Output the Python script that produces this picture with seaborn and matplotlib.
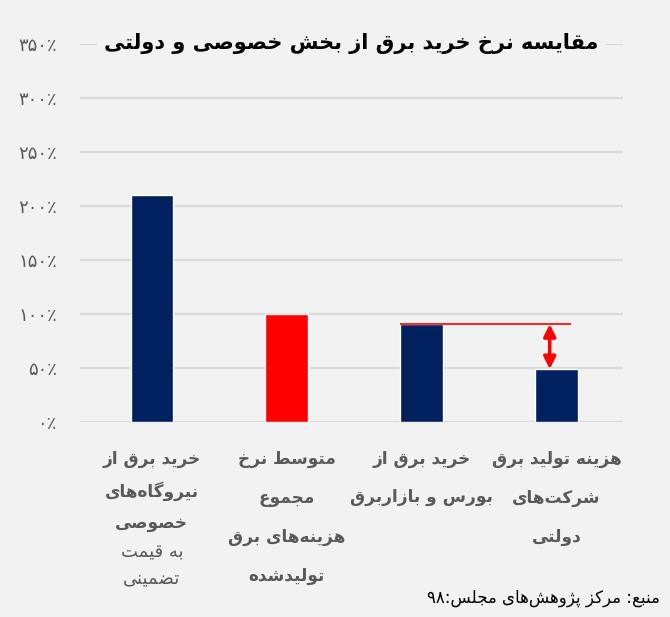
import matplotlib
matplotlib.use("Agg")
import matplotlib.pyplot as plt
import seaborn as sns
import pandas as pd

# ---------------- data ----------------
title_text = "مقایسه نرخ خرید برق از بخش خصوصی و دولتی"
category_ids = ["c1", "c2", "c3", "c4"]
category_lines = [
    ["خرید برق از", "نیروگاه\u200cهای", "خصوصی"],
    ["متوسط نرخ", "مجموع", "هزینه\u200cهای برق", "تولیدشده"],
    ["خرید برق از", "بورس و بازاربرق"],
    ["هزینه تولید برق", "شرکت\u200cهای", "دولتی"],
]
category_extra_lines = [["به قیمت", "تضمینی"], [], [], []]
values = [210, 100, 91, 49]
bar_colors = ["#002060", "#ff0000", "#002060", "#002060"]
y_ticks = [0, 50, 100, 150, 200, 250, 300, 350]
source_text = "منبع: مرکز پژوهش\u200cهای مجلس:۹۸"

# ---------------- minimal Persian shaping ----------------
FORMS = {
    '\u0627': ('\uFE8D', '\uFE8E', None, None),
    '\u0622': ('\uFE81', '\uFE82', None, None),
    '\u0628': ('\uFE8F', '\uFE90', '\uFE91', '\uFE92'),
    '\u067E': ('\uFB56', '\uFB57', '\uFB58', '\uFB59'),
    '\u062A': ('\uFE95', '\uFE96', '\uFE97', '\uFE98'),
    '\u062B': ('\uFE99', '\uFE9A', '\uFE9B', '\uFE9C'),
    '\u062C': ('\uFE9D', '\uFE9E', '\uFE9F', '\uFEA0'),
    '\u0686': ('\uFB7A', '\uFB7B', '\uFB7C', '\uFB7D'),
    '\u062D': ('\uFEA1', '\uFEA2', '\uFEA3', '\uFEA4'),
    '\u062E': ('\uFEA5', '\uFEA6', '\uFEA7', '\uFEA8'),
    '\u062F': ('\uFEA9', '\uFEAA', None, None),
    '\u0630': ('\uFEAB', '\uFEAC', None, None),
    '\u0631': ('\uFEAD', '\uFEAE', None, None),
    '\u0632': ('\uFEAF', '\uFEB0', None, None),
    '\u0698': ('\uFB8A', '\uFB8B', None, None),
    '\u0633': ('\uFEB1', '\uFEB2', '\uFEB3', '\uFEB4'),
    '\u0634': ('\uFEB5', '\uFEB6', '\uFEB7', '\uFEB8'),
    '\u0635': ('\uFEB9', '\uFEBA', '\uFEBB', '\uFEBC'),
    '\u0636': ('\uFEBD', '\uFEBE', '\uFEBF', '\uFEC0'),
    '\u0637': ('\uFEC1', '\uFEC2', '\uFEC3', '\uFEC4'),
    '\u0638': ('\uFEC5', '\uFEC6', '\uFEC7', '\uFEC8'),
    '\u0639': ('\uFEC9', '\uFECA', '\uFECB', '\uFECC'),
    '\u063A': ('\uFECD', '\uFECE', '\uFECF', '\uFED0'),
    '\u0641': ('\uFED1', '\uFED2', '\uFED3', '\uFED4'),
    '\u0642': ('\uFED5', '\uFED6', '\uFED7', '\uFED8'),
    '\u06A9': ('\uFB8E', '\uFB8F', '\uFB90', '\uFB91'),
    '\u06AF': ('\uFB92', '\uFB93', '\uFB94', '\uFB95'),
    '\u0644': ('\uFEDD', '\uFEDE', '\uFEDF', '\uFEE0'),
    '\u0645': ('\uFEE1', '\uFEE2', '\uFEE3', '\uFEE4'),
    '\u0646': ('\uFEE5', '\uFEE6', '\uFEE7', '\uFEE8'),
    '\u0648': ('\uFEED', '\uFEEE', None, None),
    '\u0647': ('\uFEE9', '\uFEEA', '\uFEEB', '\uFEEC'),
    '\u06CC': ('\uFBFC', '\uFBFD', '\uFBFE', '\uFBFF'),
    '\u064A': ('\uFEF1', '\uFEF2', '\uFEF3', '\uFEF4'),
    '\u0626': ('\uFE89', '\uFE8A', '\uFE8B', '\uFE8C'),
    '\u0629': ('\uFE93', '\uFE94', None, None),
}
DIGITS = set("0123456789\u06F0\u06F1\u06F2\u06F3\u06F4\u06F5\u06F6\u06F7\u06F8\u06F9")


def _dual(ch):
    f = FORMS.get(ch)
    return f is not None and f[2] is not None


def shape_line(text):
    chars = list(text)
    n = len(chars)
    res = []
    i = 0
    while i < n:
        c = chars[i]
        if c not in FORMS:
            if c != '\u200c':
                res.append(c)
            i += 1
            continue
        prev = chars[i - 1] if i > 0 else None
        prev_j = prev is not None and _dual(prev)
        if c == '\u0644' and i + 1 < n and chars[i + 1] == '\u0627':
            res.append('\uFEFC' if prev_j else '\uFEFB')
            i += 2
            continue
        nxt = chars[i + 1] if i + 1 < n else None
        next_j = nxt is not None and nxt in FORMS
        f = FORMS[c]
        if f[2] is None:
            form = f[1] if prev_j else f[0]
        else:
            if prev_j and next_j:
                form = f[3]
            elif prev_j:
                form = f[1]
            elif next_j:
                form = f[2]
            else:
                form = f[0]
        res.append(form)
        i += 1
    # visual order (RTL), keeping digit runs left-to-right
    res = res[::-1]
    out = []
    run = []
    for ch in res:
        if ch in DIGITS:
            run.append(ch)
        else:
            if run:
                out.extend(run[::-1])
                run = []
            out.append(ch)
    if run:
        out.extend(run[::-1])
    return "".join(out)


def fa(text):
    return "\n".join(shape_line(l) for l in text.split("\n"))


def fa_digits(n):
    return "".join(chr(0x06F0 + int(d)) for d in str(n))


# ---------------- plotting ----------------
BG = "#f2f2f2"
sns.set_theme(style="white")
plt.rcParams["font.family"] = ["DejaVu Sans"]

fig = plt.figure(figsize=(6.70, 6.17), dpi=100, facecolor=BG)
ax = fig.add_axes([0.119, 0.316, 0.811, 0.613])
ax.set_facecolor(BG)

df = pd.DataFrame({"cat": category_ids, "val": values})
bar_w = 0.315
sns.barplot(data=df, x="cat", y="val", hue="cat", palette=bar_colors,
            width=bar_w, saturation=1, legend=False, ax=ax, zorder=3)

ax.set_ylim(0, 350)
ax.set_xlim(-0.534, 3.494)
ax.set_yticks(y_ticks)
ax.set_yticklabels([fa_digits(t) + "\u066A" for t in y_ticks],
                   color="#595959", fontsize=13)
ax.tick_params(axis="y", length=0, pad=16.5)
ax.tick_params(axis="x", length=0)
ax.set_xticks(range(len(category_ids)))
ax.set_xticklabels([""] * len(category_ids))
ax.set_xlabel("")
ax.set_ylabel("")
ax.yaxis.grid(True, color="#d9d9d9", linewidth=1.5, zorder=0)
ax.set_axisbelow(True)
for s in ax.spines.values():
    s.set_visible(False)

# category labels
bold_step = [32, 39, 38, 39]
for i, lines in enumerate(category_lines):
    off = 37
    for j, line in enumerate(lines):
        ax.annotate(fa(line), xy=(i, 0), xytext=(0, -(off + j * bold_step[i])),
                    textcoords="offset pixels", ha="center", va="center",
                    fontsize=12.2, fontweight="bold", color="#595959",
                    annotation_clip=False)
    extra = category_extra_lines[i]
    for k, line in enumerate(extra):
        ax.annotate(fa(line), xy=(i, 0),
                    xytext=(0, -(off + (len(lines) - 1) * bold_step[i] + 29 + k * 26)),
                    textcoords="offset pixels", ha="center", va="center",
                    fontsize=13, color="#595959", annotation_clip=False)

# difference marker between bar 3 and bar 4
ax.plot([2 - bar_w / 2, 3 + 0.11], [values[2], values[2]], color="#ff0000",
        linewidth=1.2, zorder=4, solid_capstyle="butt")
ax.annotate("", xy=(2.95, values[3]), xytext=(2.95, values[2] - 0.5),
            arrowprops=dict(arrowstyle="<|-|>", color="#ff0000", lw=2.5,
                            mutation_scale=18, shrinkA=0, shrinkB=0),
            zorder=5)

# title
ax.text(0.5, 1.0, fa(title_text), transform=ax.transAxes, ha="center",
        va="center", fontsize=15, fontweight="bold", color="#000000",
        bbox=dict(facecolor=BG, edgecolor="none", pad=5), zorder=6)

# source
fig.text(660 / 670, 1 - 598 / 617, fa(source_text), ha="right", va="center",
         fontsize=12, color="#000000")

fig.savefig("out.png", dpi=100, facecolor=BG)
